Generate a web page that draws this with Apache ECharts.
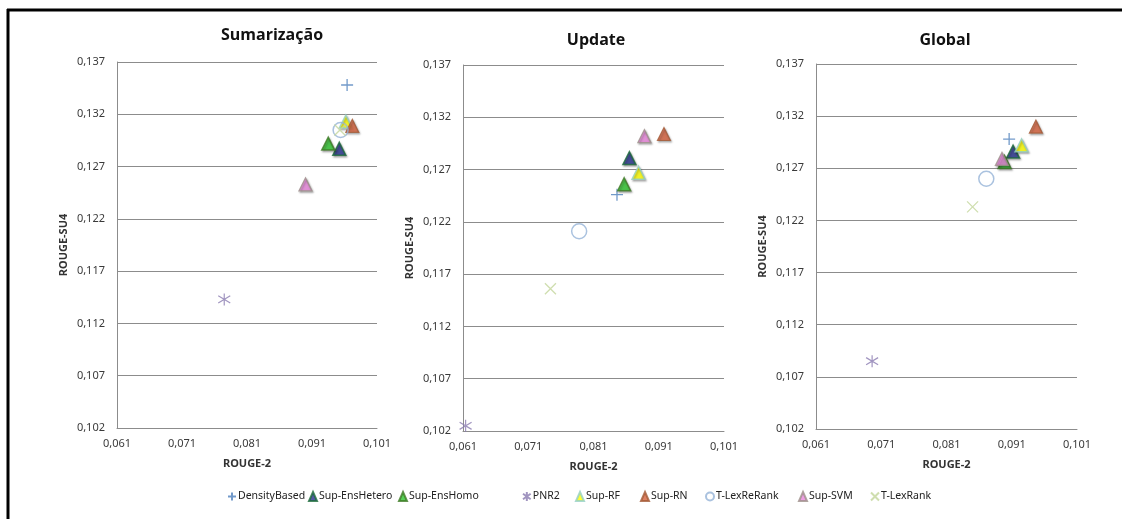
<!DOCTYPE html>
<html>
<head>
<meta charset="utf-8">
<title>ROUGE-2 x ROUGE-SU4</title>
<script src="https://cdn.jsdelivr.net/npm/echarts@6/dist/echarts.min.js"></script>
<style>
  html, body { margin: 0; padding: 0; background: #ffffff; }
  #chart { width: 1122px; height: 519px; }
</style>
</head>
<body>
<div id="chart"></div>
<script>
// Methods compared (legend order)
const methods = ['DensityBased', 'Sup-EnsHetero', 'Sup-EnsHomo', 'PNR2', 'Sup-RF', 'Sup-RN', 'T-LexReRank', 'Sup-SVM', 'T-LexRank'];

// Panel titles
const panelTitles = ['Sumarização', 'Update', 'Global'];

// Scores per method (same order as methods)
const sumarizacaoRouge2 = [0.0964, 0.0952, 0.0935, 0.0775, 0.0962, 0.0972, 0.0954, 0.0900, 0.0953];
const sumarizacaoSU4    = [0.1348, 0.1287, 0.1292, 0.1143, 0.1313, 0.1309, 0.1305, 0.1253, 0.1305];
const updateRouge2      = [0.0846, 0.0865, 0.0857, 0.0614, 0.0879, 0.0918, 0.0788, 0.0888, 0.0744];
const updateSU4         = [0.1246, 0.1281, 0.1256, 0.1025, 0.1267, 0.1304, 0.1211, 0.1302, 0.1156];
const globalRouge2      = [0.0906, 0.0912, 0.0899, 0.0696, 0.0925, 0.0947, 0.0871, 0.0895, 0.0850];
const globalSU4         = [0.1298, 0.1286, 0.1276, 0.1085, 0.1292, 0.1310, 0.1260, 0.1279, 0.1233];

// Axis ticks
const rouge2Ticks = [0.061, 0.071, 0.081, 0.091, 0.101];
const su4Ticks = [0.102, 0.107, 0.112, 0.117, 0.122, 0.127, 0.132, 0.137];

const panelData = [
  [sumarizacaoRouge2, sumarizacaoSU4],
  [updateRouge2, updateSU4],
  [globalRouge2, globalSU4]
];

// Plot areas
const grids = [
  { left: 117, top: 62, width: 260, height: 366 },
  { left: 463, top: 65, width: 261, height: 366 },
  { left: 816, top: 64, width: 261, height: 365 }
];
const titleCenters = [[267, 22], [591, 27], [940, 27]];

// Marker styles
const PLUS = 'path://M0,-1L0,1M-1,0L1,0';
const STAR = 'path://M0,-1L0,1M-0.85,-0.6L0.85,0.6M-0.85,0.6L0.85,-0.6';
const CROSS = 'path://M-1,-1L1,1M-1,1L1,-1';
const shadow = { shadowColor: 'rgba(0,0,0,0.35)', shadowBlur: 2, shadowOffsetX: 1, shadowOffsetY: 1.5 };
const styles = {
  'DensityBased':  { symbol: PLUS, size: 12, item: { color: '#4f81bd', borderColor: '#4f81bd', borderWidth: 1.3 } },
  'Sup-EnsHetero': { symbol: 'triangle', size: 13, item: Object.assign({ color: '#262f8c', borderColor: '#1c6b3a', borderWidth: 1.5 }, shadow) },
  'Sup-EnsHomo':   { symbol: 'triangle', size: 13, item: Object.assign({ color: '#2ec42e', borderColor: '#3e7a25', borderWidth: 1.5 }, shadow) },
  'PNR2':          { symbol: STAR, size: 12, item: { color: '#8a7bb0', borderColor: '#8a7bb0', borderWidth: 1.2 } },
  'Sup-RF':        { symbol: 'triangle', size: 13, item: Object.assign({ color: '#ffff00', borderColor: '#93cfc6', borderWidth: 1.5 }, shadow) },
  'Sup-RN':        { symbol: 'triangle', size: 13, item: Object.assign({ color: '#d4603c', borderColor: '#a35a36', borderWidth: 1.2 }, shadow) },
  'T-LexReRank':   { symbol: 'circle', size: 15, item: { color: 'rgba(255,255,255,0)', borderColor: '#95b3d7', borderWidth: 1.5 } },
  'Sup-SVM':       { symbol: 'triangle', size: 13, item: Object.assign({ color: '#ea86dc', borderColor: '#9d9089', borderWidth: 1.3 }, shadow) },
  'T-LexRank':     { symbol: CROSS, size: 11, item: { color: '#c3d69b', borderColor: '#c3d69b', borderWidth: 1.3 } }
};

const fmt = v => v.toFixed(3).replace('.', ',');
const tickFont = { fontFamily: 'Noto Sans', fontSize: 11, color: '#3a3a3a' };
const nameFont = { fontFamily: 'Noto Sans', fontSize: 11, fontWeight: 'bold', color: '#333333' };

const xAxes = [], yAxes = [], series = [], titles = [];
grids.forEach((g, p) => {
  titles.push({
    text: panelTitles[p], left: titleCenters[p][0], top: titleCenters[p][1], textAlign: 'center',
    textStyle: { fontFamily: 'Open Sans', fontSize: 16, fontWeight: 'bold', color: '#111111' }
  });
  xAxes.push({
    type: 'value', gridIndex: p, min: 0.061, max: 0.101,
    name: 'ROUGE-2', nameLocation: 'middle', nameGap: 30, nameTextStyle: nameFont,
    axisLine: { show: true, lineStyle: { color: '#8c8c8c', width: 1 } },
    axisTick: { show: false, customValues: rouge2Ticks },
    axisLabel: { customValues: rouge2Ticks, formatter: fmt, margin: 10, ...tickFont },
    splitLine: { show: false }
  });
  yAxes.push({
    type: 'value', gridIndex: p, min: 0.102, max: 0.137,
    name: 'ROUGE-SU4', nameLocation: 'middle', nameGap: 48, nameTextStyle: nameFont,
    axisLine: { show: true, lineStyle: { color: '#8c8c8c', width: 1 } },
    axisTick: { show: false, customValues: su4Ticks },
    axisLabel: { customValues: su4Ticks, formatter: fmt, margin: 12, ...tickFont },
    splitLine: { show: true, lineStyle: { color: '#8c8c8c', width: 1 } }
  });
  const [xs, ys] = panelData[p];
  methods.forEach((m, i) => {
    const st = styles[m];
    series.push({
      type: 'scatter', name: m, xAxisIndex: p, yAxisIndex: p,
      symbol: st.symbol, symbolSize: st.size,
      itemStyle: st.item,
      emphasis: { disabled: true },
      data: [[xs[i], ys[i]]]
    });
  });
});

// One legend entry per method, laid out in a single row
const legendLefts = [227, 308, 398, 522, 575, 640, 705, 798, 870];
const legends = methods.map((m, i) => ({
  data: [m], left: legendLefts[i], top: 491, padding: 0,
  itemWidth: 8, itemHeight: 9, itemGap: 0,
  selectedMode: false,
  textStyle: { fontFamily: 'Noto Sans', fontSize: 10.5, color: '#222222', padding: [0, 0, 0, -3] }
}));

const chart = echarts.init(document.getElementById('chart'), null, { renderer: 'canvas' });
chart.setOption({
  animation: false,
  backgroundColor: '#ffffff',
  title: titles,
  legend: legends,
  grid: grids,
  xAxis: xAxes,
  yAxis: yAxes,
  series: series,
  graphic: [
    { type: 'line', shape: { x1: 7, y1: 10, x2: 1122, y2: 10 }, style: { stroke: '#000000', lineWidth: 3 }, silent: true },
    { type: 'line', shape: { x1: 8, y1: 9, x2: 8, y2: 519 }, style: { stroke: '#000000', lineWidth: 3 }, silent: true }
  ]
});
</script>
</body>
</html>
